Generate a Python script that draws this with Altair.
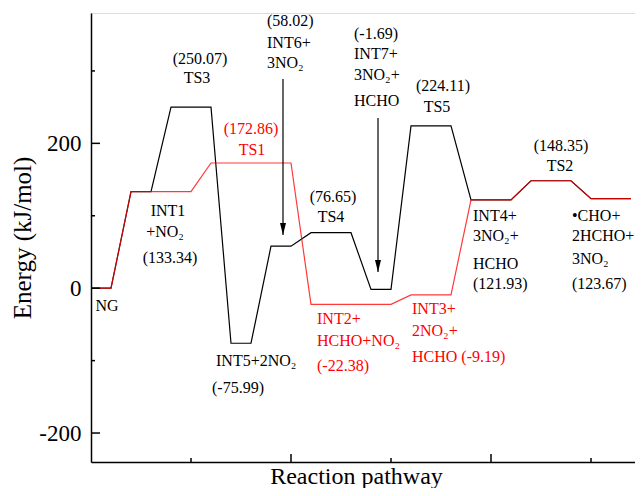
import altair as alt
import pandas as pd

# ---------------- data ----------------
black_levels = ["NG", "INT1", "TS3", "INT5", "INT6", "TS4", "INT7", "TS5", "INT4", "TS2", "P"]
black_energy = [0, 133.34, 250.07, -75.99, 58.02, 76.65, -1.69, 224.11, 121.93, 148.35, 123.67]
black_start = [0, 0.4, 0.8, 1.4, 1.8, 2.2, 2.8, 3.2, 3.8, 4.4, 5.0]
black_end = [0.2, 0.6, 1.2, 1.6, 2.0, 2.6, 3.0, 3.6, 4.2, 4.8, 5.4]

red_levels = ["NG", "INT1", "TS1", "INT2", "INT3", "INT4", "TS2", "P"]
red_energy = [0, 133.34, 172.86, -22.38, -9.19, 121.93, 148.35, 123.67]
red_start = [0, 0.4, 1.2, 2.2, 3.2, 3.8, 4.4, 5.0]
red_end = [0.2, 1.0, 2.0, 3.0, 3.6, 4.2, 4.8, 5.4]

# annotation lines: text, x, y, align, colour
label_text = [
    "(250.07)", "TS3",
    "INT1", "+NO₂", "(133.34)",
    "NG",
    "INT5+2NO₂", "(-75.99)",
    "(58.02)", "INT6+", "3NO₂",
    "(-1.69)", "INT7+", "3NO₂+", "HCHO",
    "(76.65)", "TS4",
    "(224.11)", "TS5",
    "INT4+", "3NO₂+", "HCHO", "(121.93)",
    "(148.35)", "TS2",
    "•CHO+", "2HCHO+", "3NO₂", "(123.67)",
    "(172.86)", "TS1",
    "INT2+", "HCHO+NO₂", "(-22.38)",
    "INT3+", "2NO₂+", "HCHO (-9.19)",
]
label_x = [
    1.09, 1.06,
    0.77, 0.74, 0.79,
    0.16,
    1.25, 1.21,
    1.76, 1.76, 1.76,
    2.63, 2.63, 2.63, 2.63,
    2.42, 2.40,
    3.52, 3.46,
    3.82, 3.82, 3.82, 3.82,
    4.70, 4.69,
    4.81, 4.81, 4.81, 4.81,
    1.60, 1.61,
    2.26, 2.26, 2.26,
    3.21, 3.21, 3.21,
]
label_y = [
    316.5, 290.3,
    106.6, 77.6, 41.7,
    -24.6,
    -100.5, -137.8,
    369.0, 338.6, 311.0,
    351.0, 323.4, 294.4, 258.5,
    125.9, 98.3,
    279.2, 250.2,
    99.7, 72.1, 33.4, 5.8,
    196.4, 168.7,
    99.7, 72.1, 40.3, 5.8,
    219.8, 190.8,
    -42.5, -72.9, -107.4,
    -28.7, -59.1, -95.0,
]
label_align = [
    "center", "center",
    "center", "center", "center",
    "center",
    "left", "left",
    "left", "left", "left",
    "left", "left", "left", "left",
    "center", "center",
    "center", "center",
    "left", "left", "left", "left",
    "center", "center",
    "left", "left", "left", "left",
    "center", "center",
    "left", "left", "left",
    "left", "left", "left",
]
label_color = ["black"] * 29 + ["red"] * 8

# arrows: x, start energy, tip energy
arrow_x = [1.92, 2.87]
arrow_from = [288.9, 235.0]
arrow_to = [73.5, 22.4]

# axis ticks
y_major = [-200, 0, 200]
y_minor = [-100, 100, 300]
x_major = [2, 4]
x_minor = [1, 3, 5]

W, H = 544, 449
FONT = "Liberation Serif"


def path_df(name, starts, ends, energies):
    rows = []
    k = 0
    for s, e, en in zip(starts, ends, energies):
        rows.append({"path": name, "order": k, "x": s, "y": en}); k += 1
        rows.append({"path": name, "order": k, "x": e, "y": en}); k += 1
    return pd.DataFrame(rows)


black_df = path_df("black", black_start, black_end, black_energy)
red_df = path_df("red", red_start, red_end, red_energy)

labels_df = pd.DataFrame({"text": label_text, "x": label_x, "y": label_y,
                          "align": label_align, "color": label_color})
arrows_df = pd.DataFrame({"x": arrow_x, "y": arrow_from, "y2": arrow_to})
ytick_df = pd.DataFrame({"v": y_major + y_minor,
                         "len": [9] * len(y_major) + [4] * len(y_minor)})
xtick_df = pd.DataFrame({"v": x_major + x_minor,
                         "len": [8] * len(x_major) + [4] * len(x_minor)})

xscale = alt.Scale(domain=[0, 5.44], nice=False, zero=False)
yscale = alt.Scale(domain=[-240, 380], nice=False, zero=False)

xenc = alt.X("x:Q", scale=xscale,
             axis=alt.Axis(title="Reaction pathway", labels=False, ticks=False, tickSize=0,
                           grid=False, domainColor="black", domainWidth=1.5,
                           titlePadding=21, titleBaseline="alphabetic", titleX=265,
                           titleAlign="center",
                           titleFont=FONT, titleFontSize=24,
                           titleFontWeight="normal", titleColor="black"))
yenc = alt.Y("y:Q", scale=yscale,
             axis=alt.Axis(title="Energy (kJ/mol)", values=y_major, ticks=False, tickSize=0,
                           labelExpr="'' + datum.value",
                           grid=False, domainColor="black", domainWidth=1.5,
                           labelFont=FONT, labelFontSize=23, labelColor="black",
                           labelPadding=10, titleX=-56, titleY=H / 2,
                           titleAngle=270, titleBaseline="bottom", titleAlign="center",
                           titleFont=FONT,
                           titleFontSize=25, titleFontWeight="normal", titleColor="black"))

black_line = alt.Chart(black_df).mark_line(color="black", strokeWidth=1.2).encode(
    x=xenc, y=yenc, order="order:Q")
red_line = alt.Chart(red_df).mark_line(color="red", strokeWidth=1.2, opacity=0.78).encode(
    x=alt.X("x:Q", scale=xscale), y=alt.Y("y:Q", scale=yscale), order="order:Q")

texts = []
for al in ["left", "center"]:
    for col in ["black", "red"]:
        sub = labels_df[(labels_df["align"] == al) & (labels_df["color"] == col)]
        if len(sub) == 0:
            continue
        texts.append(alt.Chart(sub).mark_text(font=FONT, fontSize=16, color=col, align=al,
                                              baseline="middle").encode(
            x=alt.X("x:Q", scale=xscale), y=alt.Y("y:Q", scale=yscale), text="text:N"))

arrow_rule = alt.Chart(arrows_df).mark_rule(color="black", strokeWidth=1.2).encode(
    x=alt.X("x:Q", scale=xscale), y=alt.Y("y:Q", scale=yscale), y2="y2:Q")
arrow_head = alt.Chart(arrows_df).mark_point(
    shape="M-1,-4L1,-4L0,0Z", size=36, filled=True, color="black", opacity=1).encode(
    x=alt.X("x:Q", scale=xscale), y=alt.Y("y2:Q", scale=yscale))

ytick_layers = []
for ln in sorted(set(ytick_df["len"])):
    sub = ytick_df[ytick_df["len"] == ln]
    ytick_layers.append(alt.Chart(sub).mark_rule(color="black", strokeWidth=1.5).encode(
        y=alt.Y("v:Q", scale=yscale), x=alt.value(0), x2=alt.value(int(ln))))
xtick_layers = []
for ln in sorted(set(xtick_df["len"])):
    sub = xtick_df[xtick_df["len"] == ln]
    xtick_layers.append(alt.Chart(sub).mark_rule(color="black", strokeWidth=1.5).encode(
        x=alt.X("v:Q", scale=xscale), y=alt.value(H), y2=alt.value(H - int(ln))))

chart = alt.layer(
    black_line, red_line, *texts, arrow_rule, arrow_head, *ytick_layers, *xtick_layers
).properties(
    width=W, height=H,
    autosize=alt.AutoSizeParams(type="none"),
    padding={"left": 83, "top": 5, "right": 0, "bottom": 26},
).configure_view(stroke=None).configure(background="white")

chart.save("out.html", embed_options={"renderer": "svg", "actions": False})
